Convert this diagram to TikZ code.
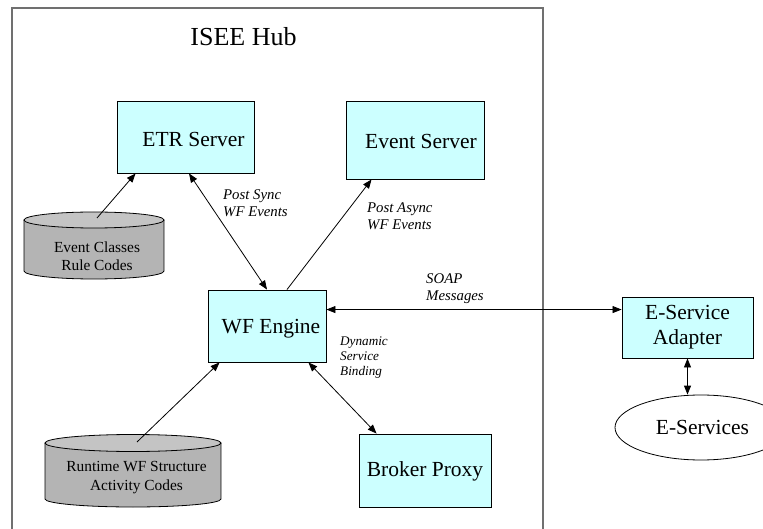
\documentclass[tikz,border=0pt]{standalone}
\usepackage{fontspec}
\setmainfont{Liberation Serif}
\usetikzlibrary{arrows.meta,shapes.geometric}
\definecolor{boxfill}{HTML}{CCFFFF}
\definecolor{cylbody}{HTML}{B4B4B4}
\definecolor{cyltop}{HTML}{C4C4C4}
\definecolor{hubline}{HTML}{707070}
\newcommand{\fs}[2]{\fontsize{#1}{#2}\selectfont}
\tikzset{
  srvbox/.style={draw=black, line width=0.9pt, fill=boxfill, inner sep=0pt},
  boxtxt/.style={font=\fs{21.5}{25}},
  note/.style={font=\fs{14.8}{17.5}\itshape, align=left, anchor=west, inner sep=0pt},
  dbtxt/.style={font=\fs{15.4}{18.5}, align=center, inner sep=0pt},
  conn/.style={line width=0.8pt, -{Triangle[length=9pt,width=7pt]}},
  bconn/.style={line width=0.8pt, {Triangle[length=9pt,width=7pt]}-{Triangle[length=9pt,width=7pt]}},
  cylline/.style={draw=black, line width=0.8pt}
}
\begin{document}
\begin{tikzpicture}[x=1pt,y=-1pt]
\useasboundingbox (0,0) rectangle (763,529);
\fill[white] (0,0) rectangle (763,529);

% hub frame (open at the bottom)
\draw[hubline, line width=1.2pt] (12,535) -- (12,8) -- (543,8) -- (543,535);
\node[font=\fs{26}{30}] (hubtitle) at (243.5,37) {ISEE Hub};

% servers
\node[srvbox, minimum width=137, minimum height=72,
      label={[boxtxt, xshift=8pt, yshift=-2pt]center:ETR Server}] (etr) at (185.5,137) {};
\node[srvbox, minimum width=138, minimum height=78,
      label={[boxtxt, xshift=6pt, yshift=-1pt]center:Event Server}] (evs) at (415,140) {};
\node[srvbox, minimum width=118, minimum height=72,
      label={[boxtxt, xshift=4pt, yshift=-3pt]center:WF Engine}] (wf) at (267,326) {};
\node[srvbox, minimum width=132, minimum height=73,
      label={[boxtxt, yshift=-1pt]center:Broker Proxy}] (broker) at (425,470.5) {};
\node[srvbox, minimum width=131, minimum height=61, boxtxt, align=center]
      (adapter) at (687.5,327.5) {E-Service\\Adapter};
\node[draw=black, line width=0.8pt, ellipse, fill=white, minimum width=172, minimum height=65,
      inner sep=0pt, boxtxt] (esvc) at (701,427.5) {\hspace*{3pt}E-Services};

% database cylinders
\fill[cylbody] (24,220) rectangle (164,271);
\fill[cylbody] (94,271) ellipse (70 and 8);
\draw[cylline] (24,220) -- (24,271) arc[start angle=180, end angle=0, x radius=70, y radius=8] -- (164,220);
\draw[cylline, fill=cyltop] (94,220) ellipse (70 and 8);
\coordinate (db1) at (97,218);
\node[dbtxt] (db1txt) at (97,256) {Event Classes\\Rule Codes};

\fill[cylbody] (45,443) rectangle (221,499);
\fill[cylbody] (133,499) ellipse (88 and 8);
\draw[cylline] (45,443) -- (45,499) arc[start angle=180, end angle=0, x radius=88, y radius=8] -- (221,443);
\draw[cylline, fill=cyltop] (133,443) ellipse (88 and 8.5);
\coordinate (db2) at (137,442);
\node[dbtxt] (db2txt) at (136.5,477.5) {Runtime WF Structure\\Activity Codes};

% connectors
\draw[conn] (db1) -- ([xshift=19pt]etr.south west);
\draw[bconn] ([xshift=3.5pt]etr.south) -- (wf.north);
\draw[conn] ([xshift=20pt]wf.north) -- ([xshift=26pt]evs.south west);
\draw[conn] (db2) -- ([xshift=12pt]wf.south west);
\draw[bconn] ([xshift=-18pt]wf.south east) -- ([xshift=18pt]broker.north west);
\draw[bconn] ([yshift=-20pt]wf.north east) -- ([yshift=-20pt]wf.north east -| adapter.west);
\draw[bconn] (adapter.south) -- (adapter.south |- esvc.north);

% connector notes
\node[note] (n1) at (223,203) {Post Sync\\WF Events};
\node[note] (n2) at (367,216) {Post Async\\WF Events};
\node[note] (n3) at (426,288.5) {SOAP\\Messages};
\node[note, font=\fs{13.2}{15}\itshape] (n4) at (340,358) {Dynamic\\Service\\Binding};
\end{tikzpicture}
\end{document}
